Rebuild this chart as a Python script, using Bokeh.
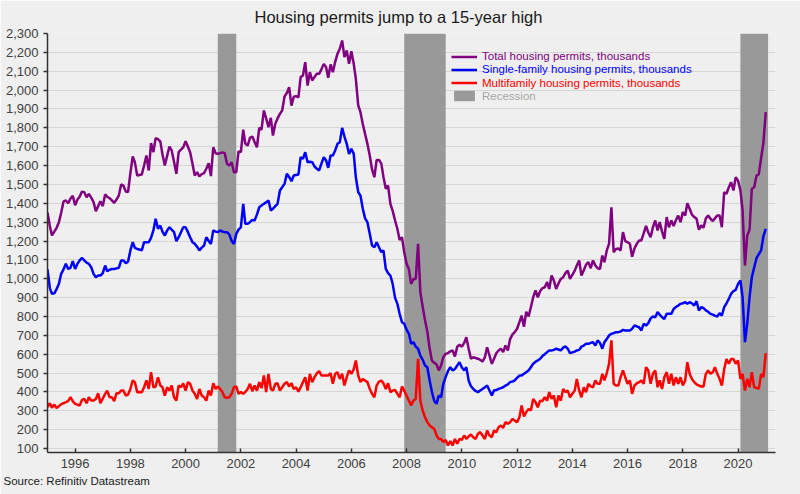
import datetime as dt
import pandas as pd
from bokeh.plotting import figure
from bokeh.models import (Range1d, FixedTicker, NumeralTickFormatter, DatetimeTickFormatter,
                          Legend, LegendItem, Title)
from bokeh.embed import file_html
from bokeh.resources import INLINE

# ---------------- data (monthly, SAAR, thousands) ----------------
months = pd.date_range("1995-01-01", "2021-01-01", freq="MS")

total_permits = [
    1350, 1280, 1230, 1250, 1270, 1300, 1350, 1410, 1415, 1400, 1425, 1440,  # 1995
    1390, 1420, 1435, 1462, 1459, 1432, 1450, 1430, 1406, 1358, 1385, 1411,  # 1996
    1385, 1447, 1435, 1427, 1415, 1402, 1420, 1441, 1500, 1494, 1462, 1459,  # 1997
    1560, 1648, 1618, 1547, 1550, 1553, 1600, 1653, 1574, 1719, 1671, 1745,  # 1998
    1740, 1727, 1660, 1600, 1650, 1701, 1680, 1620, 1556, 1671, 1685, 1697,  # 1999
    1729, 1700, 1671, 1610, 1547, 1565, 1542, 1555, 1560, 1583, 1613, 1544,  # 2000
    1697, 1665, 1662, 1666, 1670, 1666, 1609, 1600, 1618, 1565, 1565, 1675,  # 2001
    1671, 1790, 1715, 1706, 1747, 1754, 1725, 1697, 1800, 1790, 1892, 1850,  # 2002
    1803, 1853, 1759, 1821, 1850, 1874, 1892, 1966, 1985, 2015, 1918, 1965,  # 2003
    1968, 1962, 2069, 2077, 2148, 2024, 2095, 2051, 2070, 2086, 2086, 2110,  # 2004
    2139, 2121, 2065, 2136, 2095, 2150, 2192, 2219, 2263, 2175, 2210, 2139,  # 2005
    2206, 2140, 2060, 1920, 1883, 1820, 1768, 1715, 1653, 1580, 1538, 1630,  # 2006
    1630, 1610, 1540, 1477, 1494, 1397, 1360, 1310, 1265, 1206, 1220, 1140,  # 2007
    1080, 1050, 973, 999, 999, 1185, 929, 850, 780, 720, 630, 565,           # 2008
    555, 545, 514, 540, 585, 602, 606, 615, 620, 588, 640, 650,              # 2009
    640, 660, 690, 629, 576, 584, 580, 576, 570, 561, 584, 637,              # 2010
    593, 549, 575, 605, 620, 629, 611, 646, 620, 680, 705, 717,              # 2011
    735, 770, 805, 745, 825, 800, 849, 902, 938, 902, 935, 950,              # 2012
    955, 982, 946, 1017, 991, 946, 975, 999, 1008, 1030, 1043, 999,          # 2013
    1020, 1043, 1070, 1097, 1017, 1045, 1075, 1088, 1056, 1097, 1070, 1056,  # 2014
    1052, 1123, 1088, 1150, 1185, 1379, 1141, 1158, 1160, 1150, 1247, 1200,  # 2015
    1194, 1185, 1117, 1160, 1185, 1203, 1203, 1240, 1280, 1245, 1220, 1273,  # 2016
    1309, 1256, 1300, 1250, 1212, 1327, 1273, 1309, 1280, 1310, 1335, 1300,  # 2017
    1353, 1335, 1400, 1371, 1340, 1327, 1318, 1260, 1283, 1270, 1320, 1335,  # 2018
    1318, 1306, 1320, 1335, 1335, 1273, 1459, 1450, 1485, 1512, 1468, 1538,  # 2019
    1520, 1468, 1362, 1070, 1229, 1260, 1477, 1485, 1547, 1553, 1640, 1720,  # 2020
    1883,                                                                    # 2021
]

single_family = [
    1050, 950, 920, 923, 945, 973, 1026, 1050, 1079, 1052, 1058, 1093,       # 1995
    1052, 1080, 1097, 1111, 1097, 1085, 1079, 1061, 1026, 1008, 1017, 1017,  # 1996
    1030, 1070, 1040, 1048, 1052, 1052, 1055, 1058, 1097, 1097, 1083, 1090,  # 1997
    1150, 1194, 1164, 1158, 1155, 1150, 1194, 1194, 1194, 1217, 1256, 1318,  # 1998
    1265, 1282, 1250, 1229, 1255, 1273, 1260, 1247, 1199, 1220, 1247, 1273,  # 1999
    1273, 1247, 1220, 1194, 1185, 1170, 1150, 1165, 1176, 1220, 1200, 1185,  # 2000
    1256, 1250, 1247, 1256, 1250, 1247, 1247, 1235, 1200, 1185, 1238, 1260,  # 2001
    1273, 1397, 1291, 1291, 1300, 1312, 1309, 1340, 1379, 1388, 1397, 1405,  # 2002
    1415, 1362, 1371, 1385, 1397, 1468, 1485, 1503, 1556, 1540, 1517, 1547,  # 2003
    1550, 1553, 1644, 1636, 1671, 1618, 1620, 1618, 1595, 1583, 1574, 1610,  # 2004
    1644, 1627, 1588, 1653, 1653, 1680, 1715, 1724, 1800, 1754, 1715, 1662,  # 2005
    1689, 1662, 1538, 1460, 1441, 1371, 1320, 1300, 1238, 1176, 1167, 1194,  # 2006
    1167, 1141, 1150, 1052, 1030, 1017, 973, 900, 867, 814, 770, 761,        # 2007
    730, 708, 655, 664, 640, 629, 593, 570, 540, 531, 461, 400,              # 2008
    352, 337, 381, 372, 443, 480, 510, 531, 514, 522, 540, 558,              # 2009
    530, 514, 531, 460, 430, 416, 405, 399, 408, 416, 425, 434,              # 2010
    408, 381, 408, 410, 416, 420, 425, 434, 440, 452, 455, 461,              # 2011
    475, 487, 487, 496, 505, 514, 531, 549, 560, 567, 576, 590,              # 2012
    600, 611, 620, 620, 623, 629, 625, 620, 635, 641, 629, 606,              # 2013
    610, 614, 620, 623, 640, 646, 655, 655, 660, 664, 646, 673,              # 2014
    660, 629, 664, 680, 699, 708, 712, 717, 717, 720, 729, 726,              # 2015
    726, 726, 735, 752, 748, 743, 726, 761, 752, 765, 790, 800,              # 2016
    796, 823, 810, 796, 787, 814, 814, 814, 840, 850, 858, 867,              # 2017
    870, 876, 867, 876, 870, 858, 881, 832, 849, 845, 832, 825,              # 2018
    814, 810, 805, 800, 817, 805, 849, 870, 893, 920, 935, 941,              # 2019
    973, 991, 902, 664, 761, 902, 1008, 1060, 1110, 1130, 1150, 1225,        # 2020
    1265,                                                                    # 2021
]

multifamily = [
    319, 340, 316, 333, 314, 325, 335, 340, 346, 351, 372, 351,  # 1995
    337, 333, 328, 358, 363, 340, 372, 354, 354, 363, 393, 340,  # 1996
    365, 390, 407, 372, 372, 351, 393, 393, 407, 407, 381, 386,  # 1997
    416, 461, 452, 399, 400, 399, 425, 461, 416, 505, 425, 429,  # 1998
    478, 434, 425, 380, 425, 407, 434, 372, 354, 434, 425, 446,  # 1999
    407, 452, 443, 407, 390, 363, 416, 381, 372, 354, 407, 381,  # 2000
    446, 416, 429, 416, 400, 372, 369, 372, 390, 425, 429, 390,  # 2001
    399, 390, 400, 416, 443, 404, 434, 407, 452, 420, 487, 399,  # 2002
    496, 416, 407, 443, 446, 407, 425, 443, 452, 429, 446, 416,  # 2003
    425, 402, 425, 452, 478, 407, 496, 452, 478, 499, 510, 487,  # 2004
    487, 487, 487, 499, 443, 496, 505, 469, 496, 434, 478, 514,  # 2005
    496, 520, 567, 487, 452, 469, 460, 452, 416, 390, 372, 434,  # 2006
    455, 460, 446, 416, 446, 399, 407, 411, 390, 372, 429, 407,  # 2007
    380, 354, 328, 354, 363, 575, 354, 301, 266, 240, 222, 213,  # 2008
    204, 169, 151, 151, 134, 146, 116, 139, 116, 151, 125, 151,  # 2009
    146, 169, 151, 164, 174, 160, 151, 178, 187, 169, 151, 195,  # 2010
    169, 160, 195, 187, 213, 222, 210, 240, 231, 240, 257, 248,  # 2011
    240, 266, 328, 270, 293, 310, 301, 363, 346, 319, 354, 351,  # 2012
    372, 354, 399, 363, 381, 319, 381, 354, 416, 399, 407, 372,  # 2013
    390, 407, 469, 407, 372, 425, 399, 443, 430, 425, 461, 443,  # 2014
    443, 496, 461, 500, 549, 673, 443, 434, 434, 478, 514, 478,  # 2015
    443, 461, 390, 434, 445, 452, 461, 443, 531, 514, 443, 496,  # 2016
    514, 425, 461, 416, 478, 505, 443, 496, 434, 478, 443, 478,  # 2017
    434, 461, 558, 496, 469, 452, 440, 434, 429, 429, 496, 514,  # 2018
    496, 505, 531, 496, 470, 434, 520, 575, 549, 575, 575, 549,  # 2019
    567, 469, 496, 407, 469, 425, 505, 425, 422, 416, 496, 478,  # 2020
    606,                                                         # 2021
]

recession_start = [dt.datetime(2001, 3, 1), dt.datetime(2007, 12, 1), dt.datetime(2020, 2, 1)]
recession_end = [dt.datetime(2001, 11, 1), dt.datetime(2009, 6, 1), dt.datetime(2021, 2, 1)]

y_ticks = list(range(100, 2301, 100))
x_tick_years = list(range(1996, 2021, 2))
Y_MIN, Y_MAX = 79, 2300

series_labels = ["Total housing permits, thousands",
                 "Single-family housing permits, thousands",
                 "Multifamily housing permits, thousands",
                 "Recession"]
series_colors = ["#800080", "#0000ff", "#ff0000", "#999999"]
label_colors = ["#800080", "#0000ff", "#ff0000", "#a6a6a6"]

FONT = "Liberation Sans"
BG = "#efefef"

# ---------------- figure ----------------
p = figure(width=800, height=494, output_backend="svg", toolbar_location=None,
           x_axis_type="datetime",
           x_range=Range1d(dt.datetime(1995, 1, 1), dt.datetime(2021, 5, 10)),
           y_range=Range1d(Y_MIN, Y_MAX),
           min_border_left=47, min_border_right=25, min_border_top=33, min_border_bottom=42,
           background_fill_color=BG, border_fill_color=BG)
p.outline_line_color = None

# title above the plot
p.title.text = "Housing permits jump to a 15-year high"
p.title.align = "left"
p.title.offset = 207
p.title.vertical_align = "top"
p.title.text_font = FONT
p.title.text_font_size = "16.5px"
p.title.text_font_style = "normal"
p.title.text_color = "#1a1a1a"
p.title.standoff = 11

rec = p.quad(left=recession_start, right=recession_end, bottom=Y_MIN, top=Y_MAX,
             fill_color=series_colors[3], line_color=None)
r_total = p.line(months, total_permits, line_color=series_colors[0], line_width=2.5)
r_single = p.line(months, single_family, line_color=series_colors[1], line_width=2.5)
r_multi = p.line(months, multifamily, line_color=series_colors[2], line_width=2.5)

# axes
tick_ms = [pd.Timestamp(f"{y}-01-01").value / 1e6 for y in x_tick_years]
p.xaxis.ticker = FixedTicker(ticks=tick_ms)
p.xaxis.formatter = DatetimeTickFormatter(years="%Y", months="%Y", days="%Y")
p.yaxis.ticker = FixedTicker(ticks=y_ticks)
p.yaxis.formatter = NumeralTickFormatter(format="0,0")

for ax in (p.xaxis, p.yaxis):
    ax.axis_line_color = "#333333"
    ax.axis_line_width = 1.5
    ax.major_tick_line_color = "#333333"
    ax.major_tick_line_width = 1.5
    ax.minor_tick_line_color = None
    ax.major_label_text_font = FONT
    ax.major_label_text_font_size = "13px"
    ax.major_label_text_color = "#404040"
p.xaxis.major_tick_in = 4
p.xaxis.major_tick_out = 0
p.xaxis.major_label_standoff = 6
p.yaxis.major_tick_in = 0
p.yaxis.major_tick_out = 4
p.yaxis.major_label_standoff = 5

p.xgrid.grid_line_color = None
p.ygrid.ticker = FixedTicker(ticks=y_ticks)
p.ygrid.grid_line_color = "#d6d6d6"
p.ygrid.grid_line_width = 1

# legends (one per entry so each label keeps its own colour)
legend_y = [389.5, 376.2, 362.8, 349.8]
for lab, col, rend, ly in zip(series_labels, label_colors, [r_total, r_single, r_multi, rec], legend_y):
    lg = Legend(items=[LegendItem(label=lab, renderers=[rend])], location=(404, ly),
                background_fill_alpha=0, border_line_color=None,
                padding=0, margin=0, spacing=0, label_standoff=5,
                glyph_width=26, glyph_height=13, label_height=13,
                label_text_font=FONT, label_text_font_size="11.5px", label_text_color=col)
    p.add_layout(lg, "center")

# source note below the x axis
source_note = Title(text="Source: Refinitiv Datastream", align="left", offset=-44,
                    vertical_align="bottom",
                    text_font=FONT, text_font_size="11.5px", text_font_style="normal",
                    text_color="#1a1a1a", standoff=5)
p.add_layout(source_note, "below")

open("out.html", "w").write(file_html(p, INLINE))
